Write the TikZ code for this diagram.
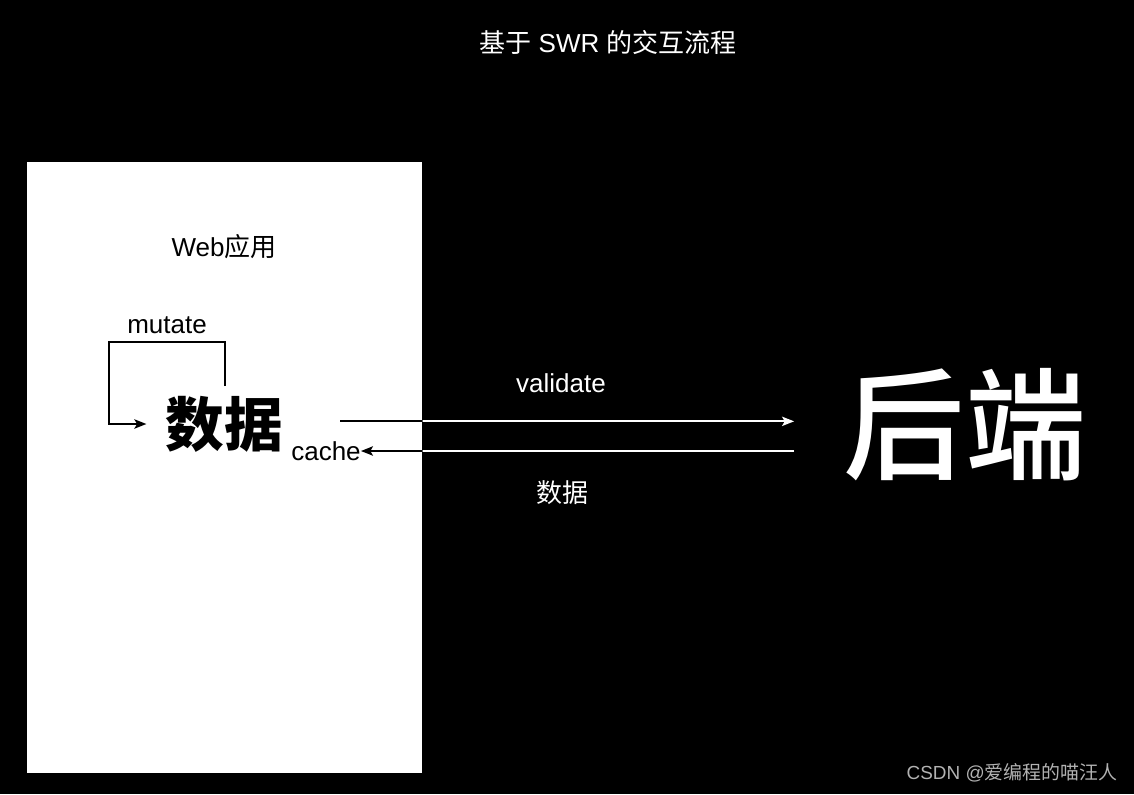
\documentclass[tikz,border=0pt]{standalone}
\usepackage{fontspec}
\setmainfont{Liberation Sans}
\newfontfamily\cjk{Noto Sans CJK SC}
\newfontfamily\cjkmed{Noto Sans CJK SC Medium}
\usetikzlibrary{arrows.meta, positioning}

\tikzset{
    label/.style={inner sep=0pt, font=\fontsize{19.5}{23}\selectfont},
    wire/.style={line width=1.5pt, -{Stealth[length=9pt, width=7pt, inset=2pt]}}
}

% the two lines between the app and the backend
\newcommand{\flowlines}[1]{%
    \draw[wire, #1] (sendA) -- (sendB);
    \draw[wire, #1] (backB) -- (cache.east);
}

\begin{document}
\begin{tikzpicture}[x=0.75pt, y=-0.75pt]

    % Background
    \fill[black] (0,0) rectangle (1134,794);
    \useasboundingbox (0,0) rectangle (1134,794);

    % Title
    \node[label, white] (title) at (608,43) {{\cjk 基于} SWR {\cjk 的交互流程}};

    % Web app box
    \node[fill=white, inner sep=0pt, minimum width=296.25pt, minimum height=458.25pt,
          anchor=north west] (app) at (27,162) {};
    \node[label] (web) at (224,247) {Web{\cjk 应用}};
    \node[label] (mutate) at (167,325) {mutate};
    \node[inner sep=0pt, font=\cjk\bfseries\fontsize{44}{50}\selectfont] (data) at (224,424) {数据};
    \node[label] (cache) at (326,451) {cache};

    % Backend
    \node[inner sep=0pt, white, font=\cjkmed\fontsize{91}{100}\selectfont] (backend) at (965,425) {后端};

    % Labels on the lines
    \node[label, white] (validate) at (561,383) {validate};
    \node[label, white] (reply) at (562,493) {\cjk 数据};

    % mutate loop
    \coordinate (loopS) at (225,386);
    \coordinate (loopR) at (225,342);
    \coordinate (loopL) at (109,342);
    \draw[wire, black] (loopS) -- (loopR) -- (loopL) |- ([xshift=-14pt]data.west);

    % Lines: white outside the box, black inside it
    \coordinate (sendA) at ([xshift=43pt, yshift=2pt]data.east);
    \coordinate (sendB) at ([xshift=-37pt]backend.west |- sendA);
    \coordinate (backB) at ([xshift=-37pt]backend.west |- cache.east);
    \flowlines{white}
    \begin{scope}
        \clip (app.south west) rectangle (app.north east);
        \flowlines{black}
    \end{scope}

    % Watermark
    \node[inner sep=0pt, font=\fontsize{14.2}{17}\selectfont, color=black!30!white] (mark) at (1012,773) {CSDN @{\cjk 爱编程的喵汪人}};

\end{tikzpicture}
\end{document}
